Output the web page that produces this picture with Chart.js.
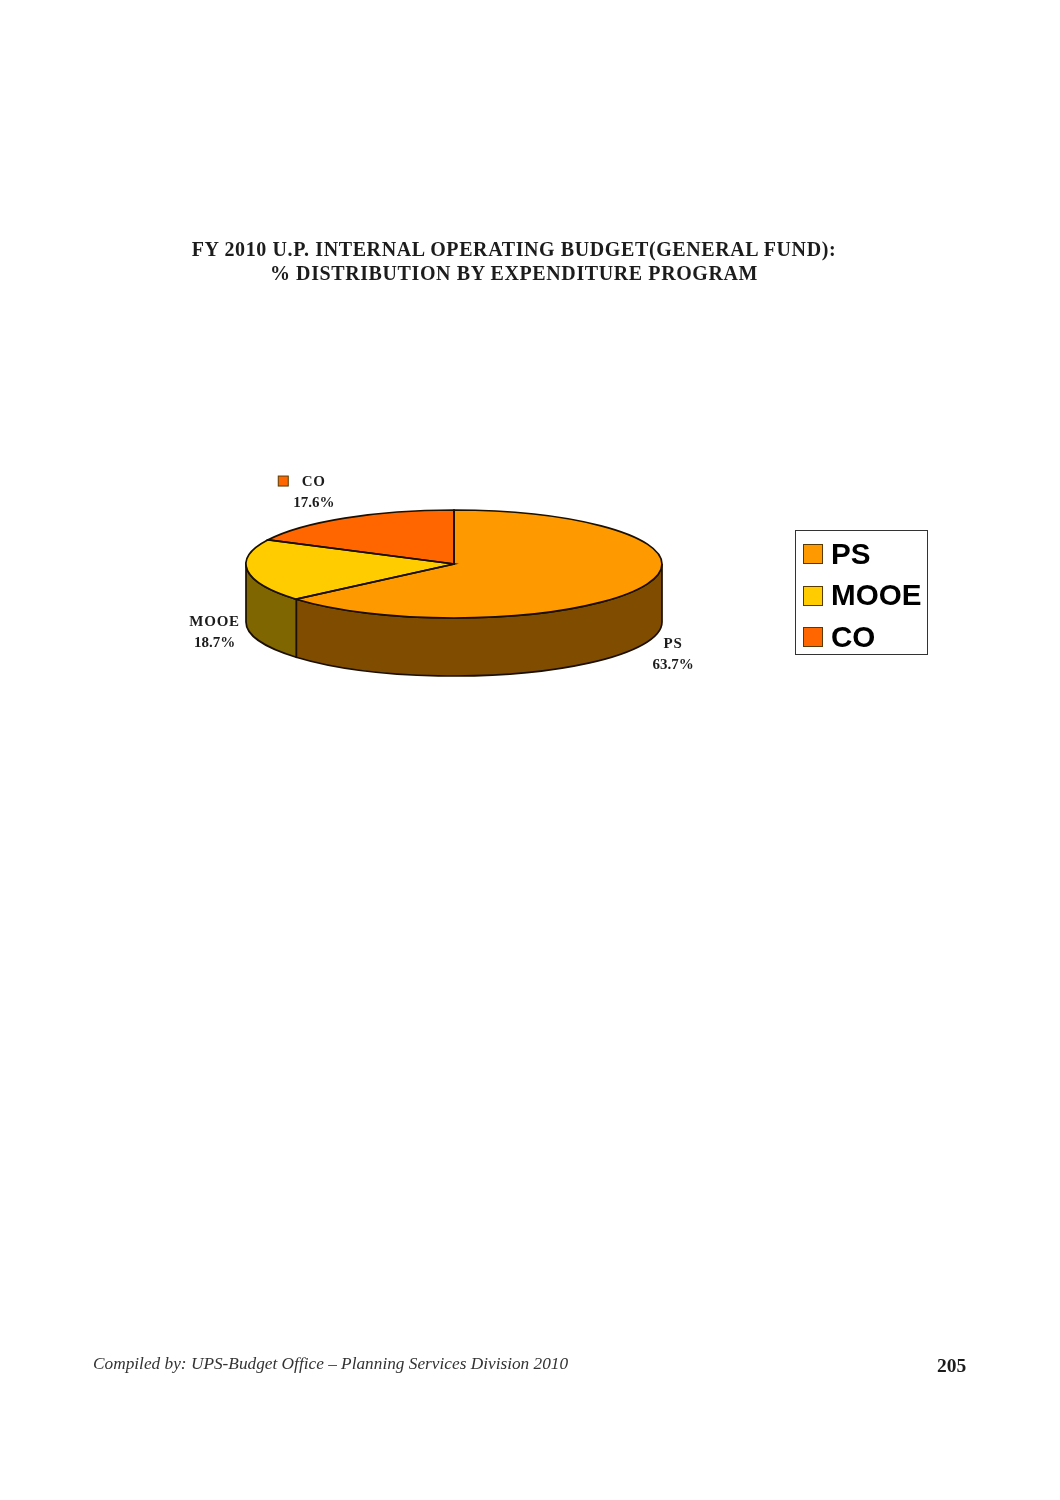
<!DOCTYPE html>
<html>
<head>
<meta charset="utf-8">
<title>FY 2010 U.P. Internal Operating Budget</title>
<script src="https://cdn.jsdelivr.net/npm/chart.js@4"></script>
<style>
  html, body { margin: 0; padding: 0; background: #fff; }
  #page { position: relative; width: 1060px; height: 1500px; overflow: hidden; font-family: "Liberation Serif", serif; color: #1c1c1c; }
  canvas { position: absolute; left: 0; top: 0; }
  .title { position: absolute; left: 0; width: 1028px; text-align: center; font-size: 20px; font-weight: bold; letter-spacing: 0.6px; white-space: nowrap; }
  #footer { position: absolute; left: 93px; top: 1354px; font-size: 17.3px; font-style: italic; color: #333; white-space: nowrap; }
  #pageNo { position: absolute; left: 937px; top: 1355px; font-size: 19.5px; font-weight: bold; white-space: nowrap; }
  #legend { position: absolute; left: 795px; top: 530px; width: 131px; height: 123px; border: 1px solid #333; font-family: "Liberation Sans", sans-serif; font-weight: bold; font-size: 29.6px; color: #000; }
  #legend .key { position: absolute; left: 7px; width: 18px; height: 18px; border: 1px solid #5a3a00; }
  #legend .txt { position: absolute; left: 35px; line-height: 32px; }
</style>
</head>
<body>
<div id="page">
  <canvas id="pie" width="1060" height="1500"></canvas>
  <div class="title" style="top:238px">FY 2010 U.P. INTERNAL OPERATING BUDGET(GENERAL FUND):</div>
  <div class="title" style="top:262px">% DISTRIBUTION BY EXPENDITURE PROGRAM</div>
  <div id="legend"></div>
  <div id="footer">Compiled by: UPS-Budget Office – Planning Services Division 2010</div>
  <div id="pageNo">205</div>
</div>
<script>
const categories = ['PS', 'MOOE', 'CO'];
const shares = [63.7, 18.7, 17.6];
const topColors = ['#FF9900', '#FFCC00', '#FF6600'];
const sideColors = ['#804C00', '#806600', '#803300'];

// pie is a flat circle in chart.js, squashed here to look like the 3d one
const squash = 54 / 208;
const depth = 58;
const labelOffsets = [[30, 61], [-33, 55], [-31, -32]];

function ellipseArc(ctx, c, a, b, dy, ccw) {
  ctx.ellipse(c.x, c.y + dy, c.outerRadius, c.outerRadius * squash, 0, a, b, ccw);
}

const pie3d = {
  id: 'pie3d',
  beforeDatasetsDraw(chart) {
    const ctx = chart.ctx;
    const arcs = chart.getDatasetMeta(0).data;
    // walls first, only the front half can be seen
    arcs.forEach((arc, i) => {
      const a = Math.max(arc.startAngle, 0);
      const b = Math.min(arc.endAngle, Math.PI);
      if (b <= a) return;
      ctx.beginPath();
      ellipseArc(ctx, arc, a, b, 0, false);
      ellipseArc(ctx, arc, b, a, depth, true);
      ctx.closePath();
      ctx.fillStyle = sideColors[i];
      ctx.fill();
      ctx.lineWidth = 1.7;
      ctx.strokeStyle = '#1a0f00';
      ctx.stroke();
    });
    const c = arcs[0];
    ctx.save();
    ctx.translate(c.x, c.y);
    ctx.scale(1, squash);
    ctx.translate(-c.x, -c.y);
  },
  afterDatasetsDraw(chart) {
    const ctx = chart.ctx;
    ctx.restore();
    const arcs = chart.getDatasetMeta(0).data;
    ctx.lineWidth = 1.7;
    ctx.strokeStyle = '#1a0f00';
    arcs.forEach(arc => {
      ctx.beginPath();
      ctx.moveTo(arc.x, arc.y);
      ellipseArc(ctx, arc, arc.startAngle, arc.endAngle, 0, false);
      ctx.closePath();
      ctx.stroke();
    });
    // data labels
    ctx.font = 'bold 15px "Liberation Serif"';
    ctx.textAlign = 'center';
    ctx.textBaseline = 'alphabetic';
    arcs.forEach((arc, i) => {
      const mid = (arc.startAngle + arc.endAngle) / 2;
      const x = arc.x + Math.cos(mid) * arc.outerRadius + labelOffsets[i][0];
      const y = arc.y + Math.sin(mid) * arc.outerRadius * squash + labelOffsets[i][1];
      ctx.fillStyle = '#1c1c1c';
      ctx.letterSpacing = '0.8px';
      ctx.fillText(categories[i], x, y);
      ctx.letterSpacing = '0px';
      ctx.fillText(shares[i].toFixed(1) + '%', x, y + 21);
      // stray legend key next to the CO label
      if (categories[i] === 'CO') {
        ctx.fillStyle = topColors[i];
        ctx.fillRect(x - 35.5, y - 10, 10, 10);
        ctx.lineWidth = 1;
        ctx.strokeStyle = '#5a3a00';
        ctx.strokeRect(x - 35.5, y - 10, 10, 10);
      }
    });
  }
};

new Chart(document.getElementById('pie'), {
  type: 'pie',
  data: {
    labels: categories,
    datasets: [{
      data: shares,
      backgroundColor: topColors,
      borderWidth: 0
    }]
  },
  options: {
    responsive: false,
    animation: false,
    events: [],
    layout: { padding: { left: 246, right: 398, top: 356, bottom: 728 } },
    plugins: {
      legend: { display: false },
      title: { display: false },
      tooltip: { enabled: false }
    }
  },
  plugins: [pie3d]
});

const legendBox = document.getElementById('legend');
categories.forEach((name, i) => {
  const key = document.createElement('div');
  key.className = 'key';
  key.style.top = (13 + i * 41.7) + 'px';
  key.style.background = topColors[i];
  legendBox.appendChild(key);
  const txt = document.createElement('div');
  txt.className = 'txt';
  txt.style.top = (7 + i * 41.3) + 'px';
  txt.textContent = name;
  legendBox.appendChild(txt);
});
</script>
</body>
</html>
